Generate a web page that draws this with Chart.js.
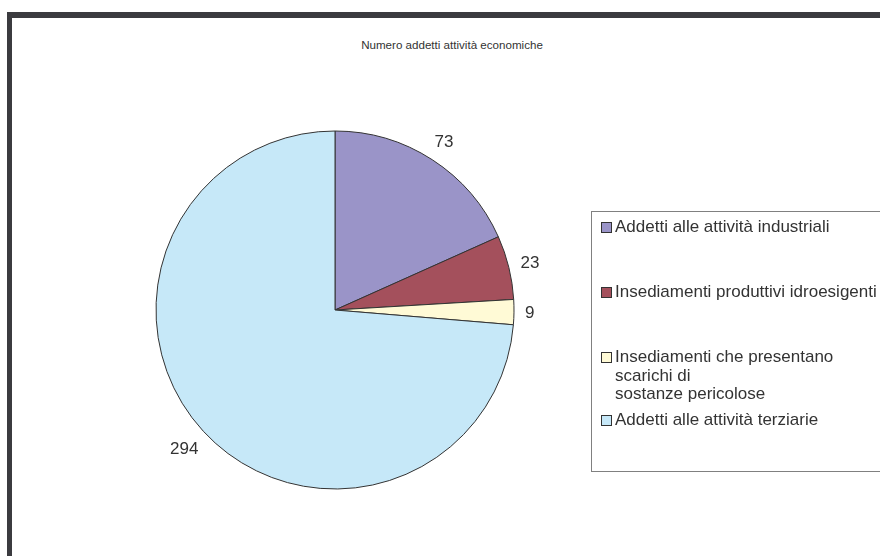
<!DOCTYPE html>
<html>
<head>
<meta charset="utf-8">
<script src="https://cdn.jsdelivr.net/npm/chart.js@4/dist/chart.umd.min.js"></script>
<style>
  html, body { margin: 0; padding: 0; background: #fff; overflow: hidden; }
  body { width: 880px; height: 556px; position: relative; font-family: "Liberation Sans", Arial, sans-serif; }
  /* cornice scura in alto e a sinistra */
  .frame { position: absolute; left: 7px; top: 12px; width: 900px; height: 600px;
           border-top: 6px solid #3b3b3f; border-left: 5px solid #3b3b3f; box-sizing: border-box; }
  .title { position: absolute; left: 0; width: 904px; top: 38px; text-align: center;
           font-size: 11.6px; color: #333; white-space: nowrap; }
  #wrap { position: absolute; left: 0; top: 0; width: 880px; height: 556px; }
  .legend { position: absolute; left: 591px; top: 211px; width: 320px; height: 261px;
            border: 1px solid #808080; box-sizing: border-box; font-size: 17px; color: #333; }
  .legend .item { position: absolute; left: 9px; white-space: pre-line; padding-left: 14px; line-height: 18.5px; }
  .legend .box { position: absolute; left: 0; top: 4px; width: 9px; height: 9px; border: 1px solid #333; }
</style>
</head>
<body>
<div class="frame"></div>
<div class="title" id="title"></div>
<div id="wrap"><canvas id="pie" width="880" height="556"></canvas></div>
<div class="legend" id="legend"></div>
<script>
// dati del grafico
const titolo = "Numero addetti attività economiche";
const categorie = [
  "Addetti alle attività industriali",
  "Insediamenti produttivi idroesigenti",
  "Insediamenti che presentano\nscarichi di\nsostanze pericolose",
  "Addetti alle attività terziarie"
];
const valori = [73, 23, 9, 294];
const colori = ["#9a94c8", "#a4505c", "#fffad6", "#c6e8f8"];
// posizione verticale delle voci di legenda (px dal bordo del riquadro)
const legendaTop = [6, 71, 136, 199];

document.getElementById("title").textContent = titolo;

// etichette dei valori fuori dalle fette
const etichette = {
  id: "etichette",
  afterDatasetsDraw(chart) {
    const ctx = chart.ctx;
    const meta = chart.getDatasetMeta(0);
    ctx.save();
    ctx.font = "17px 'Liberation Sans', Arial, sans-serif";
    ctx.fillStyle = "#333";
    ctx.textAlign = "center";
    ctx.textBaseline = "middle";
    meta.data.forEach((arc, i) => {
      const p = arc.getProps(["x", "y", "startAngle", "endAngle", "outerRadius"], true);
      const a = (p.startAngle + p.endAngle) / 2;
      const txt = String(valori[i]);
      const w = ctx.measureText(txt).width;
      const ext = Math.abs(Math.cos(a)) * w / 2 + Math.abs(Math.sin(a)) * 6.5;
      const r = p.outerRadius + 11 + ext;
      ctx.fillText(txt, p.x + Math.cos(a) * r, p.y + Math.sin(a) * r + 1);
    });
    ctx.restore();
  }
};

const chart = new Chart(document.getElementById("pie"), {
  type: "pie",
  data: {
    labels: categorie,
    datasets: [{
      data: valori,
      backgroundColor: colori,
      borderColor: "#333",
      borderWidth: 1
    }]
  },
  options: {
    responsive: false,
    animation: false,
    radius: 179,
    layout: { padding: { left: 155, right: 365, top: 130, bottom: 66 } },
    plugins: { legend: { display: false }, tooltip: { enabled: false } }
  },
  plugins: [etichette]
});

// legenda costruita dagli stessi array
const leg = document.getElementById("legend");
categorie.forEach((c, i) => {
  const it = document.createElement("div");
  it.className = "item";
  it.style.top = legendaTop[i] + "px";
  it.textContent = c;
  const b = document.createElement("span");
  b.className = "box";
  b.style.background = colori[i];
  it.appendChild(b);
  leg.appendChild(it);
});
</script>
</body>
</html>
